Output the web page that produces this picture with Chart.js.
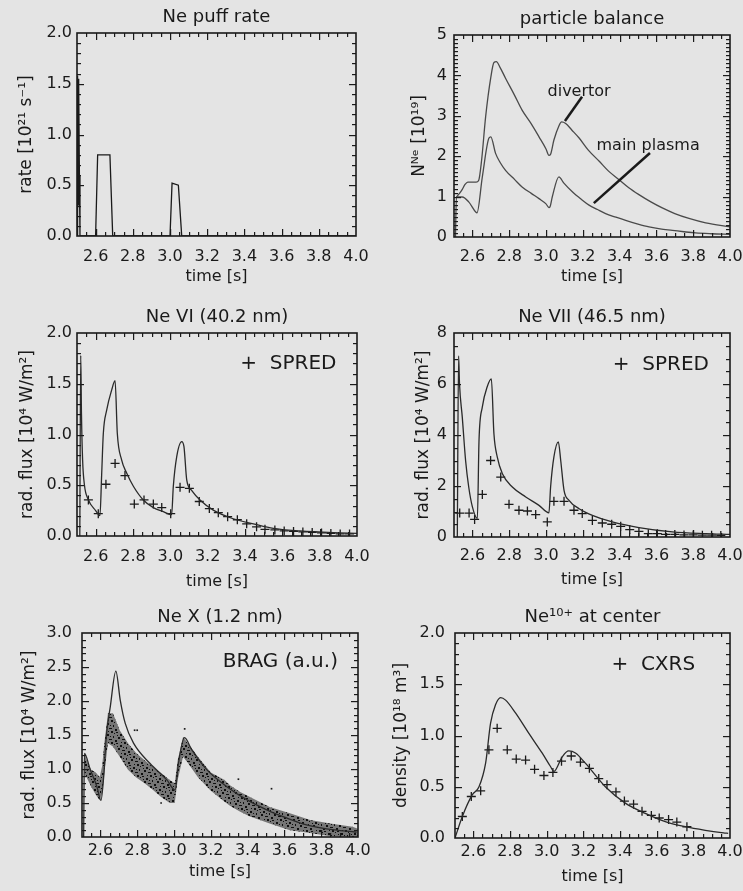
<!DOCTYPE html>
<html>
<head>
<meta charset="utf-8">
<title>Ne puff - particle balance and line radiation</title>
<script src="https://cdn.jsdelivr.net/npm/chart.js@4.4.1/dist/chart.umd.min.js"></script>
<style>
html, body { margin: 0; padding: 0; overflow: hidden; }
body { width: 743px; height: 891px; background: #e4e4e4; position: relative; }
canvas { position: absolute; }
</style>
</head>
<body>
<canvas id="puff" width="367" height="297" style="left:2px;top:-1px"></canvas>
<canvas id="balance" width="364" height="296" style="left:379px;top:1px"></canvas>
<canvas id="ne6" width="368" height="297" style="left:2px;top:299px"></canvas>
<canvas id="ne7" width="364" height="298" style="left:379px;top:299px"></canvas>
<canvas id="ne10" width="364" height="298" style="left:7px;top:599px"></canvas>
<canvas id="center" width="363" height="299" style="left:380px;top:599px"></canvas>
<script>
var timeTicks = [2.6, 2.8, 3.0, 3.2, 3.4, 3.6, 3.8, 4.0];

// Ne puff rate
var puffTime = [2.5, 2.502, 2.504, 2.506, 2.508, 2.51, 2.513, 2.516, 2.6, 2.611, 2.677, 2.692, 3.0, 3.011, 3.045, 3.063, 4.0];
var puffRate = [0, 1.58, 0.2, 1.55, 0.3, 1.5, 0.6, 0, 0, 0.8, 0.8, 0, 0, 0.52, 0.5, 0, 0];
var puffTicks = [0, 0.5, 1.0, 1.5, 2.0];

// particle balance
var mainTime = [2.508, 2.513, 2.545, 2.58, 2.618, 2.625, 2.654, 2.69, 2.70, 2.726, 2.75, 2.78, 2.83, 2.87, 2.92, 2.962, 3.0, 3.016, 3.022, 3.034, 3.07, 3.096, 3.143, 3.19, 3.234, 3.28, 3.324, 3.38, 3.433, 3.5, 3.56, 3.62, 3.687, 3.75, 3.813, 3.9, 4.0];
var mainN = [0, 0.99, 0.99, 0.87, 0.62, 0.6, 1.49, 2.45, 2.48, 2.07, 1.85, 1.65, 1.42, 1.24, 1.08, 0.95, 0.82, 0.73, 0.75, 0.99, 1.49, 1.34, 1.12, 0.94, 0.79, 0.68, 0.58, 0.49, 0.41, 0.32, 0.25, 0.2, 0.165, 0.13, 0.1, 0.08, 0.066];
var divTime = [2.513, 2.53, 2.545, 2.56, 2.575, 2.62, 2.634, 2.65, 2.672, 2.70, 2.717, 2.73, 2.75, 2.78, 2.83, 2.87, 2.92, 2.962, 3.0, 3.016, 3.025, 3.043, 3.07, 3.085, 3.107, 3.14, 3.18, 3.23, 3.288, 3.34, 3.397, 3.45, 3.505, 3.57, 3.632, 3.7, 3.777, 3.868, 4.0];
var divN = [0.99, 1.08, 1.18, 1.3, 1.36, 1.36, 1.40, 1.9, 2.98, 3.95, 4.32, 4.34, 4.2, 3.93, 3.5, 3.14, 2.8, 2.48, 2.18, 2.02, 2.05, 2.4, 2.75, 2.85, 2.81, 2.65, 2.45, 2.15, 1.88, 1.63, 1.42, 1.22, 1.05, 0.87, 0.72, 0.58, 0.46, 0.35, 0.25];
var balanceTicks = [0, 1, 2, 3, 4, 5];

// Ne VI (40.2 nm)
var ne6Time = [2.515, 2.52, 2.524, 2.53, 2.54, 2.56, 2.6, 2.623, 2.632, 2.641, 2.659, 2.686, 2.704, 2.716, 2.739, 2.766, 2.802, 2.855, 2.909, 2.962, 3.007, 3.016, 3.034, 3.061, 3.073, 3.088, 3.114, 3.159, 3.23, 3.337, 3.445, 3.552, 3.695, 3.873, 4.0];
var ne6Flux = [0, 1.78, 1.2, 0.75, 0.5, 0.36, 0.25, 0.2, 0.6, 1.01, 1.24, 1.44, 1.53, 1.01, 0.75, 0.62, 0.49, 0.355, 0.28, 0.24, 0.21, 0.49, 0.78, 0.93, 0.88, 0.55, 0.45, 0.355, 0.255, 0.17, 0.12, 0.075, 0.05, 0.033, 0.026];
var ne6SpredTime = [2.561, 2.614, 2.655, 2.704, 2.757, 2.807, 2.859, 2.909, 2.954, 3.002, 3.052, 3.102, 3.155, 3.209, 3.257, 3.307, 3.359, 3.409, 3.462, 3.507, 3.56, 3.61, 3.66, 3.71, 3.76, 3.81, 3.86, 3.91, 3.96];
var ne6Spred = [0.355, 0.22, 0.51, 0.715, 0.595, 0.315, 0.355, 0.315, 0.28, 0.22, 0.48, 0.47, 0.34, 0.27, 0.23, 0.19, 0.16, 0.12, 0.09, 0.066, 0.06, 0.05, 0.045, 0.04, 0.035, 0.03, 0.025, 0.02, 0.02];
var ne6Ticks = [0, 0.5, 1.0, 1.5, 2.0];

// Ne VII (46.5 nm)
var ne7Time = [2.518, 2.525, 2.53, 2.545, 2.563, 2.58, 2.6, 2.627, 2.636, 2.654, 2.681, 2.703, 2.717, 2.735, 2.763, 2.817, 2.89, 2.962, 3.016, 3.025, 3.043, 3.067, 3.08, 3.098, 3.125, 3.18, 3.252, 3.36, 3.505, 3.687, 3.868, 4.0];
var ne7Flux = [0, 7.1, 6.0, 4.7, 3.0, 1.96, 1.18, 0.72, 3.8, 5.1, 5.9, 6.2, 4.05, 3.14, 2.48, 1.96, 1.57, 1.24, 0.95, 1.96, 3.14, 3.73, 3.0, 1.83, 1.44, 1.11, 0.85, 0.59, 0.37, 0.2, 0.13, 0.1];
var ne7SpredTime = [2.531, 2.582, 2.612, 2.654, 2.699, 2.754, 2.799, 2.853, 2.899, 2.944, 3.007, 3.043, 3.098, 3.152, 3.197, 3.252, 3.306, 3.357, 3.406, 3.455, 3.505, 3.556, 3.605, 3.65, 3.70, 3.75, 3.80, 3.85, 3.90, 3.95];
var ne7Spred = [0.94, 0.94, 0.69, 1.67, 3.0, 2.35, 1.28, 1.05, 1.02, 0.88, 0.59, 1.40, 1.40, 1.05, 0.92, 0.65, 0.55, 0.5, 0.42, 0.29, 0.22, 0.13, 0.13, 0.1, 0.1, 0.08, 0.08, 0.07, 0.07, 0.06];
var ne7Ticks = [0, 2, 4, 6, 8];

// Ne X (1.2 nm), model and BRAG measurement band
var ne10Time = [2.509, 2.513, 2.545, 2.581, 2.603, 2.618, 2.632, 2.654, 2.684, 2.708, 2.735, 2.78, 2.87, 2.961, 3.006, 3.024, 3.057, 3.097, 3.178, 3.287, 3.395, 3.504, 3.612, 3.72, 3.829, 3.992];
var ne10Flux = [0, 1.23, 0.99, 0.74, 0.54, 0.89, 1.48, 1.92, 2.44, 2.01, 1.67, 1.38, 1.08, 0.84, 0.69, 1.08, 1.46, 1.28, 0.99, 0.74, 0.55, 0.40, 0.28, 0.18, 0.12, 0.07];
var bragTime = [2.512, 2.53, 2.55, 2.575, 2.596, 2.61, 2.62, 2.641, 2.668, 2.705, 2.75, 2.793, 2.84, 2.886, 2.93, 2.977, 3.004, 3.02, 3.049, 3.076, 3.13, 3.2, 3.275, 3.304, 3.36, 3.413, 3.52, 3.63, 3.74, 3.85, 3.97, 4.0];
var bragLow = [0.94, 0.85, 0.74, 0.62, 0.54, 0.65, 0.9, 1.38, 1.33, 1.18, 0.99, 0.88, 0.79, 0.69, 0.59, 0.50, 0.50, 0.84, 1.18, 1.09, 0.88, 0.68, 0.52, 0.46, 0.37, 0.3, 0.2, 0.1, 0.06, 0.01, 0.0, 0.0];
var bragHigh = [1.24, 1.1, 0.99, 0.95, 0.88, 1.05, 1.35, 1.82, 1.82, 1.57, 1.38, 1.24, 1.13, 1.03, 0.94, 0.84, 0.79, 1.13, 1.47, 1.38, 1.18, 0.95, 0.84, 0.76, 0.66, 0.59, 0.44, 0.35, 0.25, 0.2, 0.15, 0.12];
var bragOutTime = [2.786, 2.80, 3.058, 3.53, 2.93, 3.35];
var bragOut = [1.57, 1.57, 1.59, 0.71, 0.5, 0.85];
var ne10Ticks = [0, 0.5, 1.0, 1.5, 2.0, 2.5, 3.0];

// Ne10+ at center
var centerTime = [2.5, 2.54, 2.594, 2.631, 2.667, 2.694, 2.721, 2.749, 2.776, 2.83, 2.903, 2.975, 3.02, 3.04, 3.084, 3.12, 3.157, 3.211, 3.32, 3.429, 3.538, 3.647, 3.756, 3.865, 3.965, 3.99];
var centerDens = [0, 0.21, 0.42, 0.5, 0.73, 1.12, 1.30, 1.37, 1.345, 1.22, 1.02, 0.83, 0.70, 0.65, 0.79, 0.85, 0.83, 0.73, 0.5, 0.34, 0.24, 0.16, 0.11, 0.075, 0.05, 0.045];
var cxrsTime = [2.54, 2.589, 2.64, 2.685, 2.73, 2.785, 2.834, 2.885, 2.934, 2.985, 3.034, 3.081, 3.134, 3.184, 3.233, 3.284, 3.329, 3.378, 3.424, 3.474, 3.52, 3.571, 3.614, 3.665, 3.71, 3.765];
var cxrsDens = [0.21, 0.405, 0.46, 0.86, 1.07, 0.86, 0.77, 0.76, 0.67, 0.61, 0.64, 0.75, 0.80, 0.74, 0.68, 0.58, 0.52, 0.45, 0.36, 0.33, 0.26, 0.22, 0.195, 0.18, 0.155, 0.11];
var centerTicks = [0, 0.5, 1.0, 1.5, 2.0];

Chart.defaults.font.family = "'DejaVu Sans', sans-serif";
Chart.defaults.color = "#1a1a1a";

var ink = "#1a1a1a";

function pts(xs, ys) {
    return xs.map(function (x, i) { return { x: x, y: ys[i] }; });
}

// box frame with inward major/minor ticks on all four sides
function boxPlugin(yMinor, yMajor) {
    var xMinor = 0.05, xMajor = 0.2;
    return {
        id: "box",
        afterDraw: function (chart) {
            var ctx = chart.ctx, a = chart.chartArea, xs = chart.scales.x, ys = chart.scales.y;
            var i, n, v, p, len;
            ctx.save();
            ctx.fillStyle = ink;
            n = Math.round((4.0 - 2.5) / xMinor);
            for (i = 1; i < n; i++) {
                v = 2.5 + i * xMinor;
                len = Math.abs(v / xMajor - Math.round(v / xMajor)) < 1e-6 ? 7 : 4;
                p = Math.round(xs.getPixelForValue(v));
                ctx.fillRect(p, a.bottom - len, 1.2, len);
                ctx.fillRect(p, a.top, 1.2, len);
            }
            n = Math.round((ys.max - ys.min) / yMinor);
            for (i = 1; i < n; i++) {
                v = ys.min + i * yMinor;
                len = Math.abs(v / yMajor - Math.round(v / yMajor)) < 1e-6 ? 7 : 4;
                p = Math.round(ys.getPixelForValue(v));
                ctx.fillRect(a.left, p, len, 1.2);
                ctx.fillRect(a.right - len, p, len, 1.2);
            }
            ctx.strokeStyle = ink;
            ctx.lineWidth = 1.6;
            ctx.strokeRect(a.left, a.top, a.right - a.left, a.bottom - a.top);
            ctx.restore();
        }
    };
}

// free text and pointer lines placed in data coordinates
function notesPlugin(texts, lines) {
    return {
        id: "notes",
        afterDatasetsDraw: function (chart) {
            var ctx = chart.ctx, xs = chart.scales.x, ys = chart.scales.y;
            ctx.save();
            lines.forEach(function (l) {
                ctx.strokeStyle = ink;
                ctx.lineWidth = l[4];
                ctx.beginPath();
                ctx.moveTo(xs.getPixelForValue(l[0]), ys.getPixelForValue(l[1]));
                ctx.lineTo(xs.getPixelForValue(l[2]), ys.getPixelForValue(l[3]));
                ctx.stroke();
            });
            texts.forEach(function (t) {
                ctx.font = t.size + "px 'DejaVu Sans', sans-serif";
                ctx.fillStyle = ink;
                ctx.textAlign = t.align || "center";
                ctx.textBaseline = "middle";
                ctx.fillText(t.text, xs.getPixelForValue(t.x), ys.getPixelForValue(t.y));
            });
            ctx.restore();
        }
    };
}

// grainy fill for the dense BRAG point cloud
function speckle() {
    var c = document.createElement("canvas");
    c.width = 13; c.height = 11;
    var g = c.getContext("2d");
    g.fillStyle = "rgba(45,45,45,0.6)";
    g.fillRect(0, 0, 13, 11);
    g.fillStyle = "rgba(5,5,5,0.9)";
    [[0, 0, 2, 2], [5, 1, 2, 1], [9, 3, 2, 2], [2, 5, 1, 2], [7, 6, 2, 2], [11, 8, 2, 1], [4, 9, 2, 2], [0, 8, 1, 1], [10, 0, 1, 1], [6, 4, 1, 1], [12, 5, 1, 1], [3, 2, 1, 1]].forEach(function (r) {
        g.fillRect(r[0], r[1], r[2], r[3]);
    });
    return g.createPattern(c, "repeat");
}

function panelOptions(c) {
    return {
        responsive: false,
        animation: false,
        devicePixelRatio: 1,
        layout: { padding: { left: 0, right: 13, top: 0, bottom: 0 } },
        plugins: {
            legend: { display: false },
            tooltip: { enabled: false },
            title: {
                display: true, text: c.title, fullSize: false, color: ink,
                font: { size: 18, weight: "normal" },
                padding: { top: 7.2, bottom: 5.2 }
            }
        },
        scales: {
            x: {
                type: "linear", min: 2.5, max: 4.0,
                grid: { display: false, drawTicks: false },
                border: { display: false },
                afterBuildTicks: function (s) { s.ticks = timeTicks.map(function (v) { return { value: v }; }); },
                afterFit: function (s) { s.height = 60; s.paddingLeft = 0; s.paddingRight = 0; },
                ticks: {
                    padding: c.xPad, maxRotation: 0, autoSkip: false, color: ink,
                    font: { size: 16 },
                    callback: function (v) { return v.toFixed(1); }
                },
                title: { display: true, text: "time [s]", color: ink, font: { size: 16 }, padding: { top: 0, bottom: c.xTitlePad } }
            },
            y: {
                type: "linear", min: c.yTicks[0], max: c.yTicks[c.yTicks.length - 1],
                grid: { display: false, drawTicks: false },
                border: { display: false },
                afterBuildTicks: function (s) { s.ticks = c.yTicks.map(function (v) { return { value: v }; }); },
                afterFit: function (s) { s.width = 75; s.paddingTop = 0; s.paddingBottom = 0; },
                ticks: {
                    padding: c.yPad, color: ink, font: { size: 16 },
                    callback: function (v) { return v.toFixed(c.digits); }
                },
                title: { display: true, text: c.yTitle, color: ink, font: { size: 17 }, padding: { top: c.yTitlePad, bottom: 0 } }
            }
        }
    };
}

function curve(xs, ys, color, smooth) {
    return {
        data: pts(xs, ys), showLine: true, pointRadius: 0, borderColor: color, borderWidth: 1.3,
        fill: false, cubicInterpolationMode: smooth ? "monotone" : "default"
    };
}

function crosses(xs, ys) {
    return {
        data: pts(xs, ys), showLine: false, pointStyle: "cross", pointRadius: 4.5,
        borderColor: ink, pointBorderWidth: 1.3, backgroundColor: ink
    };
}

var chartPuff = new Chart(document.getElementById("puff"), {
    type: "scatter",
    data: { datasets: [curve(puffTime, puffRate, ink, false)] },
    options: panelOptions({
        title: "Ne puff rate", yTitle: "rate [10²¹ s⁻¹]", yTicks: puffTicks, digits: 1,
        xPad: 11.4, xTitlePad: 9.4, yPad: 5, yTitlePad: 14.8
    }),
    plugins: [boxPlugin(0.1, 0.5)]
});

var chartBalance = new Chart(document.getElementById("balance"), {
    type: "scatter",
    data: {
        datasets: [
            curve(mainTime, mainN, "#4a4a4a", true),
            curve(divTime, divN, "#4a4a4a", true)
        ]
    },
    options: panelOptions({
        title: "particle balance", yTitle: "Nᴺᵉ [10¹⁹]", yTicks: balanceTicks, digits: 0,
        xPad: 10.4, xTitlePad: 10.4, yPad: 7, yTitlePad: 30.8
    }),
    plugins: [
        boxPlugin(0.1, 1),
        notesPlugin(
            [
                { text: "divertor", x: 3.18, y: 3.59, size: 16 },
                { text: "main plasma", x: 3.555, y: 2.25, size: 16 }
            ],
            [
                [3.196, 3.47, 3.103, 2.87, 2.5],
                [3.565, 2.08, 3.26, 0.84, 2.5]
            ]
        )
    ]
});

var chartNe6 = new Chart(document.getElementById("ne6"), {
    type: "scatter",
    data: {
        datasets: [
            curve(ne6Time, ne6Flux, "#2a2a2a", true),
            crosses(ne6SpredTime, ne6Spred)
        ]
    },
    options: panelOptions({
        title: "Ne VI (40.2 nm)", yTitle: "rad. flux [10⁴ W/m²]", yTicks: ne6Ticks, digits: 1,
        xPad: 11.4, xTitlePad: 4.4, yPad: 5, yTitlePad: 15.8
    }),
    plugins: [boxPlugin(0.1, 0.5), notesPlugin([{ text: "+  SPRED", x: 3.89, y: 1.70, size: 20, align: "right" }], [])]
});

var chartNe7 = new Chart(document.getElementById("ne7"), {
    type: "scatter",
    data: {
        datasets: [
            curve(ne7Time, ne7Flux, "#2a2a2a", true),
            crosses(ne7SpredTime, ne7Spred)
        ]
    },
    options: panelOptions({
        title: "Ne VII (46.5 nm)", yTitle: "rad. flux [10⁴ W/m²]", yTicks: ne7Ticks, digits: 0,
        xPad: 9.4, xTitlePad: 7.4, yPad: 7, yTitlePad: 34.8
    }),
    plugins: [boxPlugin(0.5, 2), notesPlugin([{ text: "+  SPRED", x: 3.886, y: 6.75, size: 20, align: "right" }], [])]
});

var chartNe10 = new Chart(document.getElementById("ne10"), {
    type: "scatter",
    data: {
        datasets: [
            curve(ne10Time, ne10Flux, "#2a2a2a", true),
            {
                data: pts(bragTime, bragHigh), showLine: true, pointRadius: 0, borderWidth: 0,
                borderColor: "rgba(0,0,0,0)", backgroundColor: speckle(), fill: "+1"
            },
            {
                data: pts(bragTime, bragLow), showLine: true, pointRadius: 0, borderWidth: 0,
                borderColor: "rgba(0,0,0,0)", fill: false
            },
            {
                data: pts(bragOutTime, bragOut), showLine: false, pointStyle: "rect", pointRadius: 1.2,
                backgroundColor: ink, borderWidth: 0
            }
        ]
    },
    options: panelOptions({
        title: "Ne X (1.2 nm)", yTitle: "rad. flux [10⁴ W/m²]", yTicks: ne10Ticks, digits: 1,
        xPad: 4.4, xTitlePad: 15.4, yPad: 10, yTitlePad: 12.8
    }),
    plugins: [boxPlugin(0.1, 0.5), notesPlugin([{ text: "BRAG (a.u.)", x: 3.891, y: 2.57, size: 20, align: "right" }], [])]
});

var chartCenter = new Chart(document.getElementById("center"), {
    type: "scatter",
    data: {
        datasets: [
            curve(centerTime, centerDens, "#2a2a2a", true),
            crosses(cxrsTime, cxrsDens)
        ]
    },
    options: panelOptions({
        title: "Ne¹⁰⁺ at center", yTitle: "density [10¹⁸ m³]", yTicks: centerTicks, digits: 1,
        xPad: 4.4, xTitlePad: 11.4, yPad: 10, yTitlePad: 11.8
    }),
    plugins: [boxPlugin(0.1, 0.5), notesPlugin([{ text: "+  CXRS", x: 3.81, y: 1.69, size: 20, align: "right" }], [])]
});
</script>
</body>
</html>
